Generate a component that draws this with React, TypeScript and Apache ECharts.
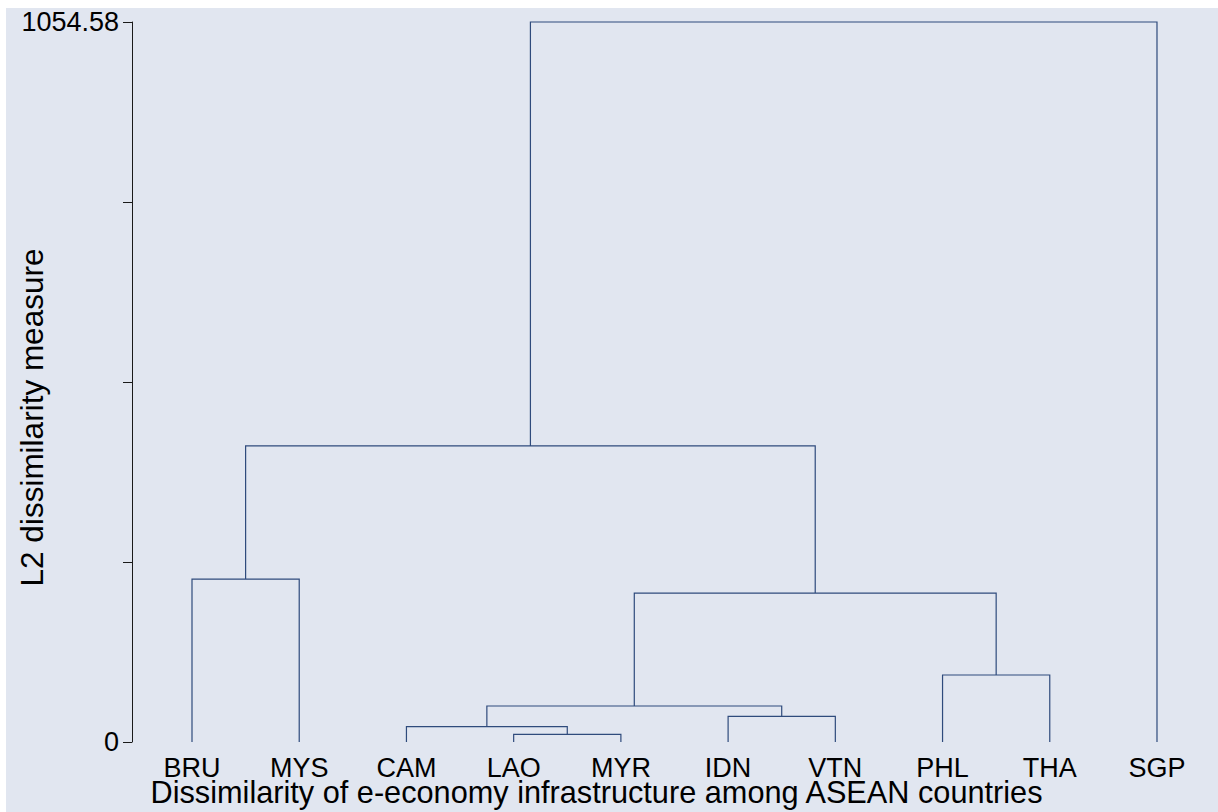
import React, { useEffect, useRef } from "react";
import * as echarts from "echarts";

// Leaves (in dendrogram order)
const leafNames = ["BRU", "MYS", "CAM", "LAO", "MYR", "IDN", "VTN", "PHL", "THA", "SGP"];
// Merges: child ids (0-9 leaves, 10+ earlier merges) and dissimilarity height
const mergeLeft = [3, 2, 5, 11, 7, 13, 0, 16, 17];
const mergeRight = [4, 10, 6, 12, 8, 14, 1, 15, 9];
const mergeHeight = [11.3, 22.4, 37.6, 52.7, 98.1, 218.2, 238.7, 433.6, 1054.58];
// Y axis
const yMax = 1054.58;
const yTickCount = 4;
const yTickLabels = ["0", "1054.58"];

const xTitle = "Dissimilarity of e-economy infrastructure among ASEAN countries";
const yTitle = "L2 dissimilarity measure";

const FONT = "'Liberation Sans', Arial, Helvetica, sans-serif";
const LINE = "#2f4b7c";
const BG = "#e1e6f0";

export default function App() {
  const ref = useRef<HTMLDivElement>(null);
  useEffect(() => {
    if (!ref.current) return;
    const chart = echarts.init(ref.current, undefined, { renderer: "svg" });

    // positions of nodes
    const nodeX: number[] = leafNames.map((_, i) => i + 1);
    const nodeH: number[] = leafNames.map(() => 0);
    const links: number[][] = [];
    mergeLeft.forEach((l, k) => {
      const r = mergeRight[k];
      const h = mergeHeight[k];
      links.push([nodeX[l], nodeH[l], nodeX[r], nodeH[r], h]);
      nodeX.push((nodeX[l] + nodeX[r]) / 2);
      nodeH.push(h);
    });

    const interval = yMax / yTickCount;

    chart.setOption({
      animation: false,
      backgroundColor: BG,
      grid: { left: 126, top: 14, width: 1086, height: 720 },
      xAxis: {
        type: "value",
        min: 0.4404,
        max: 10.569,
        show: false,
        splitLine: { show: false },
      },
      yAxis: {
        type: "value",
        min: 0,
        max: yMax,
        interval,
        splitLine: { show: false },
        axisLine: { show: true, lineStyle: { color: "#1a1a1a", width: 1 } },
        axisTick: { show: true, length: 9, inside: false, lineStyle: { color: "#1a1a1a", width: 1 } },
        axisLabel: {
          show: true,
          margin: 13,
          fontSize: 27,
          fontFamily: FONT,
          color: "#000",
          formatter: (v: number) => {
            if (Math.abs(v) < 1e-6) return yTickLabels[0];
            if (Math.abs(v - yMax) < 1e-3) return yTickLabels[1];
            return "";
          },
        },
      },
      series: [
        {
          type: "custom",
          data: links,
          clip: false,
          renderItem: (params: any, api: any) => {
            const xl = api.value(0), hl = api.value(1), xr = api.value(2), hr = api.value(3), h = api.value(4);
            const p1 = api.coord([xl, hl]);
            const p2 = api.coord([xl, h]);
            const p3 = api.coord([xr, h]);
            const p4 = api.coord([xr, hr]);
            return {
              type: "polyline",
              shape: { points: [p1, p2, p3, p4] },
              style: { stroke: LINE, lineWidth: 1.2, fill: "none" },
            };
          },
        },
        {
          type: "custom",
          data: leafNames.map((n, i) => [i + 1, 0]),
          clip: false,
          renderItem: (params: any, api: any) => {
            const p = api.coord([api.value(0), api.value(1)]);
            return {
              type: "text",
              x: p[0],
              y: p[1] + 25.6,
              style: {
                text: leafNames[params.dataIndex],
                fontSize: 27,
                lineHeight: 20,
                fontFamily: FONT,
                fill: "#000",
                align: "center",
                verticalAlign: "middle",
              },
            };
          },
        },
      ],
      graphic: [
        {
          type: "text",
          x: 590.5,
          y: 784.6,
          style: {
            text: xTitle,
            fontSize: 30.7,
            lineHeight: 23,
            fontFamily: FONT,
            fill: "#000",
            align: "center",
            verticalAlign: "middle",
          },
        },
        {
          type: "text",
          x: 25.5,
          y: 409.5,
          rotation: Math.PI / 2,
          style: {
            text: yTitle,
            fontSize: 31.5,
            fontFamily: FONT,
            fill: "#000",
            align: "center",
            verticalAlign: "middle",
          },
        },
      ],
    });
    return () => chart.dispose();
  }, []);
  return (
    <div
      ref={ref}
      style={{ position: "absolute", left: 6, top: 8, width: 1212, height: 804 }}
    />
  );
}
